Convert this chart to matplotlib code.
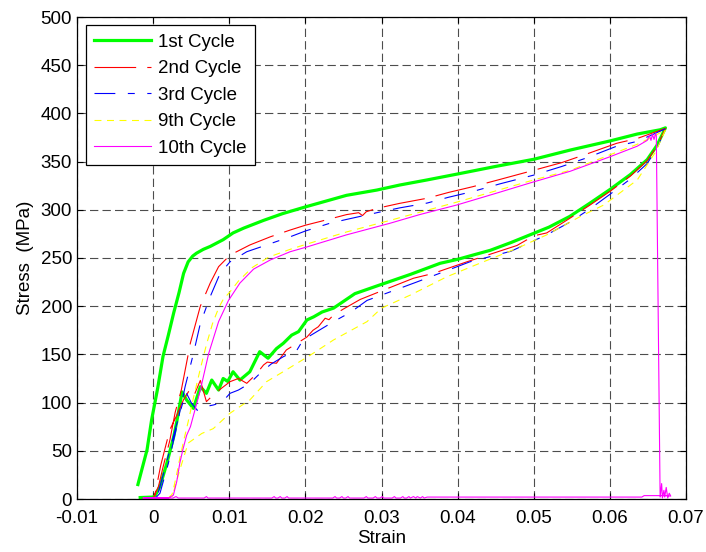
import matplotlib
matplotlib.use('Agg')
import matplotlib.pyplot as plt

plt.rcParams['font.family'] = ['Liberation Sans', 'DejaVu Sans']
plt.rcParams['lines.scale_dashes'] = False

# 1st cycle (loading then unloading)
strain1 = [-0.0020, -0.0014, -0.0008, -0.0002, 0.0006, 0.0013, 0.0020, 0.0027, 0.0034, 0.0040,
           0.0046, 0.0052, 0.0057, 0.0066, 0.0075, 0.0092, 0.0105, 0.0119, 0.0132, 0.0145,
           0.0170, 0.0200, 0.0227, 0.0254, 0.0294, 0.0324, 0.0360, 0.0399, 0.0450, 0.0500,
           0.0548, 0.0600, 0.0636, 0.0666, 0.0673,
           0.0662, 0.0649, 0.0627, 0.0600, 0.0574, 0.0547, 0.0520, 0.0500, 0.0470, 0.0443,
           0.0420, 0.0400, 0.0377, 0.0338, 0.0294, 0.0265, 0.0237, 0.0222, 0.0211, 0.0202,
           0.0191, 0.0182, 0.0171, 0.0162, 0.0151, 0.0140, 0.0127, 0.0114, 0.0105, 0.0098,
           0.0092, 0.0086, 0.0077, 0.0070, 0.0062, 0.0053, 0.0044, 0.0038, 0.0031, 0.0027,
           0.0018, 0.0009, 0.0003, 0.0000, -0.0017]
stress1 = [15, 33, 51, 82, 115, 148, 170, 193, 214, 234,
           246, 252, 255, 259, 262, 269, 276, 281, 285, 289,
           296, 303, 309, 315, 320.5, 325.7, 331, 337, 345, 352.4,
           362, 371.4, 378.6, 383, 385,
           367, 352, 336.6, 321, 307, 293, 282, 275.6, 266, 258,
           253, 248.6, 244.5, 233, 221, 213, 198, 194, 189, 185.7,
           173.6, 170, 161.5, 156, 146, 152.8, 132, 123.4, 132, 122,
           125, 113, 123.4, 109.6, 116.5, 94, 102.7, 111, 80, 64.6,
           37, 13, 4, 2, 1.5]

# 2nd cycle
strain2 = [0.0000, 0.0007, 0.0013, 0.0022, 0.0029, 0.0037, 0.0049, 0.0062, 0.0075, 0.0086,
           0.0101, 0.0127, 0.0154, 0.0180, 0.0200, 0.0220, 0.0254, 0.0270, 0.0275, 0.0280,
           0.0294, 0.0324, 0.0360, 0.0388, 0.0420, 0.0456, 0.0500, 0.0537, 0.0570, 0.0609,
           0.0636, 0.0673,
           0.0662, 0.0649, 0.0627, 0.0600, 0.0574, 0.0547, 0.0517, 0.0500, 0.0478, 0.0447,
           0.0412, 0.0368, 0.0342, 0.0303, 0.0272, 0.0252, 0.0237, 0.0231, 0.0226, 0.0217,
           0.0210, 0.0202, 0.0189, 0.0175, 0.0162, 0.0150, 0.0145, 0.0136, 0.0123, 0.0112,
           0.0101, 0.0090, 0.0079, 0.0070, 0.0062, 0.0053, 0.0047, 0.0040, 0.0030, 0.0022,
           0.0010, 0.0002]
stress2 = [1, 13, 33, 61, 90, 113, 162, 200, 224, 241,
           253, 263.5, 272, 279, 284, 288, 295, 297, 294, 298,
           301.5, 306.7, 312, 318, 324, 331.6, 341, 349, 358, 369,
           374, 384.5,
           366, 351, 335, 319, 305, 291, 276, 273, 263, 255,
           246, 234, 229, 216.8, 207, 198, 191, 186, 187.5, 178.7,
           175, 168, 161.5, 154.6, 140.8, 142, 139, 130, 120, 125,
           121.7, 115, 108, 101, 123, 106, 112, 103, 85, 72,
           35, 3]

# 3rd cycle
strain3 = [0.0003, 0.0009, 0.0020, 0.0031, 0.0042, 0.0053, 0.0062, 0.0075, 0.0088, 0.0101,
           0.0123, 0.0149, 0.0180, 0.0200, 0.0232, 0.0254, 0.0294, 0.0324, 0.0360, 0.0388,
           0.0420, 0.0456, 0.0500, 0.0537, 0.0570, 0.0609, 0.0636, 0.0673,
           0.0662, 0.0649, 0.0627, 0.0600, 0.0574, 0.0547, 0.0517, 0.0500, 0.0470, 0.0416,
           0.0346, 0.0305, 0.0281, 0.0260, 0.0237, 0.0218, 0.0197, 0.0189, 0.0171, 0.0155,
           0.0140, 0.0127, 0.0112, 0.0101, 0.0090, 0.0079, 0.0068, 0.0058, 0.0050, 0.0043,
           0.0030, 0.0015, 0.0005]
stress3 = [1, 6, 37, 75, 116.5, 151, 182, 210, 234, 246,
           256.5, 263.5, 272, 278, 286, 290, 297, 302, 307, 313,
           319, 327, 336, 345, 354, 366, 371, 384,
           364, 348, 332, 316, 301, 287, 274, 268, 257, 246,
           225, 213, 206, 194, 184, 175, 165, 154.6, 147.6, 140,
           130, 120, 113, 109.6, 100, 97.5, 95.7, 92, 100, 111,
           75, 30, 2]

# 9th cycle
strain9 = [0.0020, 0.0025, 0.0030, 0.0035, 0.0040, 0.0046, 0.0053, 0.0062, 0.0070, 0.0078,
           0.0086, 0.0092, 0.0100, 0.0112, 0.0130, 0.0152, 0.0180, 0.0200, 0.0254, 0.0311,
           0.0399, 0.0500, 0.0548, 0.0600, 0.0636, 0.0655, 0.0673,
           0.0660, 0.0636, 0.0592, 0.0561, 0.0517, 0.0478, 0.0429, 0.0386, 0.0338, 0.0300,
           0.0281, 0.0237, 0.0206, 0.0175, 0.0149, 0.0127, 0.0101, 0.0079, 0.0064, 0.0046,
           0.0035, 0.0025]
stress9 = [1, 5, 22, 42, 60, 80, 105, 135, 160, 182,
           198, 207, 214, 226, 240, 251, 259, 264, 277, 289,
           308, 331, 341, 357, 368, 375, 383,
           360, 331, 305, 293, 274, 260, 244.5, 230.6, 211.6, 198,
           184, 165, 149, 134, 121.7, 102.7, 89, 73, 68, 58,
           30, 2]

# 10th cycle (fails near the top, then zero-load trace back)
strain10 = [-0.0013, 0.0015, 0.0020, 0.00266, 0.0031, 0.0035, 0.0039, 0.0044, 0.0049, 0.0062,
            0.0073, 0.0086, 0.0099, 0.0114, 0.0132, 0.0154, 0.0180, 0.0200, 0.0254, 0.0311,
            0.0350, 0.0399, 0.0450, 0.0500, 0.0548, 0.0600, 0.0636, 0.0649, 0.0652, 0.0654,
            0.0656, 0.0658, 0.0660, 0.0661, 0.0666, 0.0668, 0.0669, 0.0671, 0.0672, 0.0674,
            0.0676, 0.0678, 0.0680, 0.0672, 0.0645, 0.0642, 0.0360, 0.0356, 0.0354, 0.0351,
            0.0347, 0.0345, 0.0342, 0.0338, 0.0336, 0.0333, 0.0330, 0.0328, 0.0325, 0.0319,
            0.0317, 0.0314, 0.0303, 0.0301, 0.0298, 0.0294, 0.0292, 0.0289, 0.0282, 0.0280,
            0.0277, 0.0258, 0.0256, 0.0253, 0.0250, 0.0248, 0.0245, 0.0241, 0.0239, 0.0236,
            0.0178, 0.0176, 0.0173, 0.0169, 0.0167, 0.0164, 0.0161, 0.0159, 0.0156, 0.0072,
            0.0070, 0.0067, 0.0033, 0.0030, 0.0026, 0.0015, -0.0013]
stress10 = [1, 1, 1, 4, 18, 37, 51, 66, 75, 113,
            151, 184, 206, 224, 238.5, 248, 256.5, 261, 274, 286,
            295, 305, 317, 329, 340, 355, 366, 372, 377, 372,
            378, 373, 379, 377, 2, 16, 1, 9, 2, 12,
            1, 6, 3, 3.5, 3.5, 2, 2, 1, 2.5, 1,
            2.5, 1, 2.5, 1, 2.5, 1, 1, 2.5, 1, 1,
            2.5, 1, 1, 2.5, 1, 1, 2.5, 1, 1, 2.5,
            1, 1, 2.5, 1, 1, 2.5, 1, 1, 2.5, 1,
            1, 2.5, 1, 1, 2.5, 1, 1, 2.5, 1, 1,
            2.5, 1, 1, 2.5, 1, 1, 1]

xticks = [-0.01, 0, 0.01, 0.02, 0.03, 0.04, 0.05, 0.06, 0.07]
xtick_labels = ['-0.01', '0', '0.01', '0.02', '0.03', '0.04', '0.05', '0.06', '0.07']
yticks = [0, 50, 100, 150, 200, 250, 300, 350, 400, 450, 500]

fig = plt.figure(figsize=(7.06, 5.52), dpi=100)
ax = fig.add_axes([77 / 706, 53 / 552, 609 / 706, 482 / 552])

ax.plot(strain1, stress1, color='#00ff00', lw=2.3, label='1st Cycle')
ax.plot(strain2, stress2, color='#ff0000', lw=0.8, dashes=(30, 8), label='2nd Cycle')
ax.plot(strain3, stress3, color='#0000ff', lw=0.8, dashes=(15, 9, 5, 9), label='3rd Cycle')
ax.plot(strain9, stress9, color='#ffff00', lw=0.8, dashes=(5, 4), label='9th Cycle')
ax.plot(strain10, stress10, color='#ff00ff', lw=0.8, label='10th Cycle')

ax.set_xlim(-0.01, 0.07)
ax.set_ylim(0, 500)
ax.set_xticks(xticks)
ax.set_xticklabels(xtick_labels)
ax.set_yticks(yticks)
ax.tick_params(direction='in', top=True, right=True, length=4, width=0.8, labelsize=13.5)
ax.tick_params(axis='x', pad=8)
ax.tick_params(axis='y', pad=3.5)
ax.set_axisbelow(True)
ax.grid(True, color='0.3', linestyle=(0, (6, 3)), linewidth=0.8)
for s in ax.spines.values():
    s.set_linewidth(0.9)

ax.set_xlabel('Strain', fontsize=13.5, labelpad=2)
ax.set_ylabel('Stress  (MPa)', fontsize=13.5, labelpad=5)

leg = ax.legend(loc='upper left', bbox_to_anchor=(9 / 609, 1 - 8 / 482), borderaxespad=0,
                fancybox=False, framealpha=1, edgecolor='black', fontsize=13.5,
                handlelength=3.0, handletextpad=0.4, labelspacing=0.5, borderpad=0.45)
leg.get_frame().set_linewidth(0.9)

fig.savefig('out.png', dpi=100)
